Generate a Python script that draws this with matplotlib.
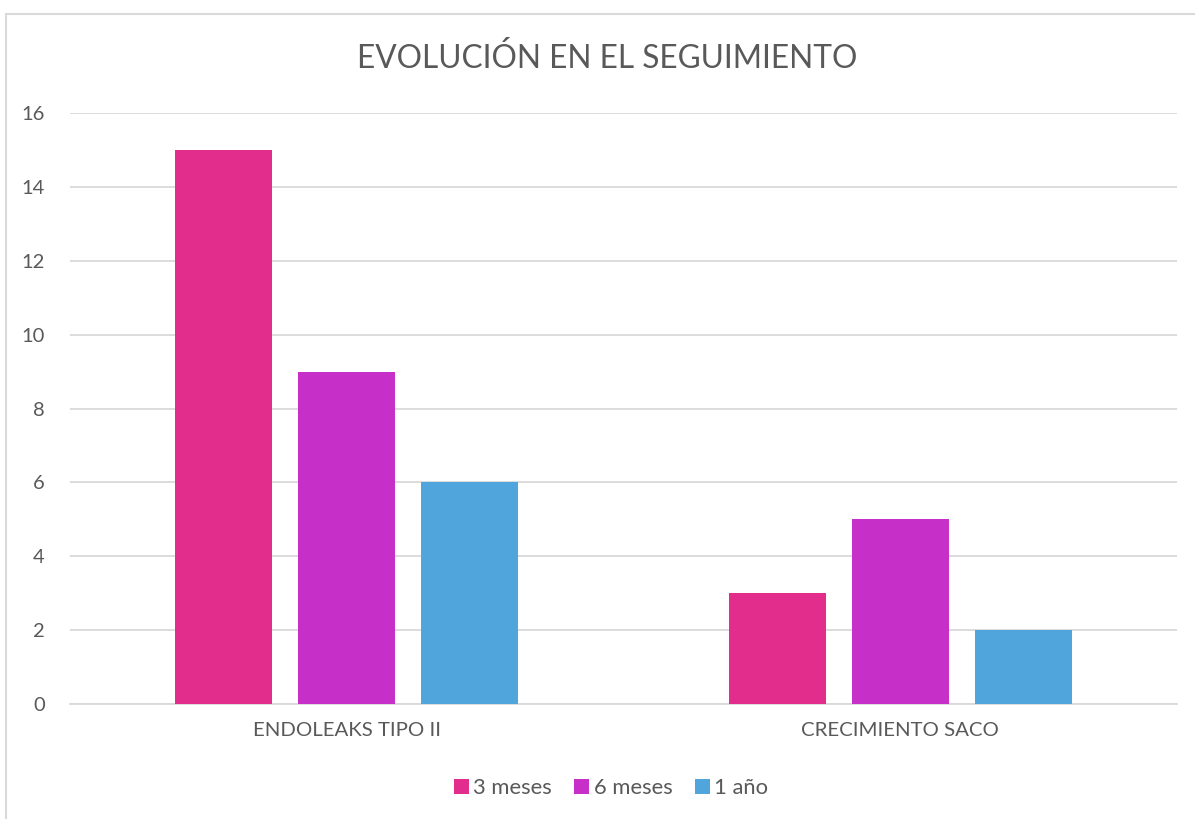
import matplotlib.pyplot as plt
from matplotlib.patches import Rectangle
import numpy as np

categories = ['ENDOLEAKS TIPO II', 'CRECIMIENTO SACO']
series_names = ['3 meses', '6 meses', '1 año']
values_3m = [15, 3]
values_6m = [9, 5]
values_1y = [6, 2]
colors = ['#E32D8C', '#C630C8', '#50A6DC']

plt.rcParams['font.family'] = ['Lato', 'DejaVu Sans']
text_color = '#595959'

fig = plt.figure(figsize=(11.95, 8.19), dpi=100)
ax = fig.add_axes([70 / 1195, 1 - 704 / 819, (1177 - 70) / 1195, (704 - 113) / 819])

# chart frame (only left and top edges fall inside the image)
fig.patches.append(Rectangle((6 / 1195, -0.1), 1.2, 1 - 14 / 819 + 0.1,
                             transform=fig.transFigure, fill=False,
                             edgecolor='#D9D9D9', linewidth=1.5))

x = np.arange(len(categories))
width = 0.175
step = 0.222
for i, (name, vals) in enumerate(zip(series_names, [values_3m, values_6m, values_1y])):
    ax.bar(x + (i - 1) * step, vals, width, color=colors[i], label=name, zorder=3)

ax.set_xlim(-0.5, 1.5)
ax.set_ylim(0, 16)
ax.set_yticks(range(0, 17, 2))
ax.set_xticks(x)
ax.set_xticklabels(categories)
ax.grid(axis='y', color='#D9D9D9', linewidth=1.3, zorder=0)
for s in ['top', 'right', 'left']:
    ax.spines[s].set_visible(False)
ax.spines['bottom'].set_color('#D9D9D9')
ax.spines['bottom'].set_linewidth(1.3)
ax.tick_params(axis='both', length=0, labelcolor=text_color)
ax.tick_params(axis='y', pad=18, labelsize=14.5)
ax.tick_params(axis='x', pad=13, labelsize=14.7)

fig.text(607 / 1195, 1 - 58 / 819, 'EVOLUCIÓN EN EL SEGUIMIENTO', ha='center', va='center',
         fontsize=22.8, color=text_color)

leg = fig.legend(loc='center', bbox_to_anchor=(611 / 1195, 1 - 788 / 819), ncol=3,
                 frameon=False, fontsize=15.8, labelcolor=text_color,
                 handlelength=0.7, handleheight=0.7, handletextpad=0.2, columnspacing=1.0)

fig.savefig('out.png', dpi=100, facecolor='white')
